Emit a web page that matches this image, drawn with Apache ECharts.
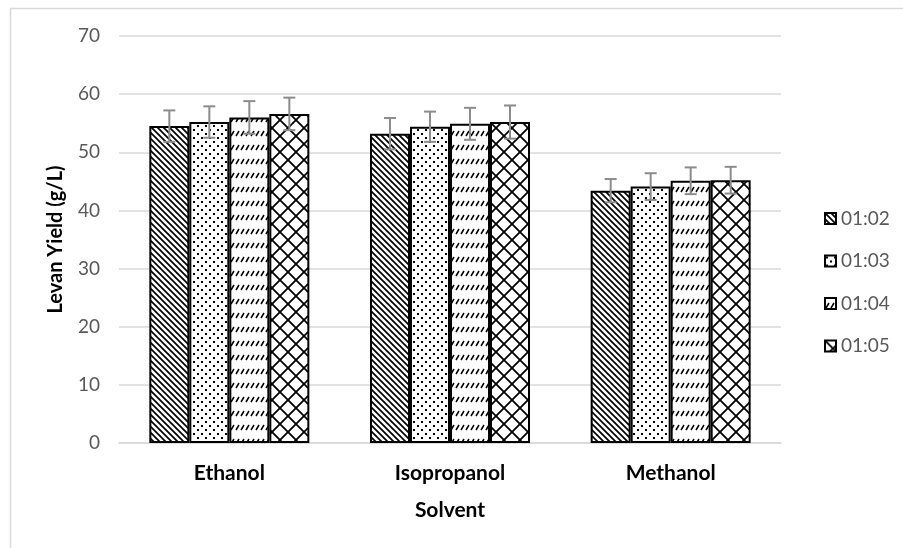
<!DOCTYPE html>
<html>
<head>
<meta charset="utf-8">
<script src="https://cdn.jsdelivr.net/npm/echarts@6/dist/echarts.min.js"></script>
<style>html,body{margin:0;padding:0;background:#fff}#c{width:903px;height:548px}</style>
</head>
<body>
<div id="c"></div>
<script>
// ---- data ----
var categories = ['Ethanol', 'Isopropanol', 'Methanol'];
var seriesNames = ['01:02', '01:03', '01:04', '01:05'];
var yield_0102 = [54.5, 53.2, 43.4];
var yield_0103 = [55.2, 54.4, 44.1];
var yield_0104 = [56.0, 54.9, 45.1];
var yield_0105 = [56.6, 55.2, 45.2];
var err_0102 = [2.7, 2.7, 2.0];
var err_0103 = [2.7, 2.6, 2.3];
var err_0104 = [2.8, 2.75, 2.3];
var err_0105 = [2.8, 2.85, 2.3];
var yTicks = [0, 10, 20, 30, 40, 50, 60, 70];
var yAxisTitle = 'Levan Yield (g/L)';
var xAxisTitle = 'Solvent';

var values = [yield_0102, yield_0103, yield_0104, yield_0105];
var errors = [err_0102, err_0103, err_0104, err_0105];

// ---- patterns ----
function mk(w, h, draw) {
  var c = document.createElement('canvas');
  c.width = w; c.height = h;
  var g = c.getContext('2d');
  g.fillStyle = '#fff'; g.fillRect(0, 0, w, h);
  g.strokeStyle = '#000'; g.fillStyle = '#000';
  draw(g);
  return { image: c, repeat: 'repeat' };
}
var pat1 = mk(6, 6, function (g) {
  g.lineWidth = 1.7;
  g.beginPath();
  g.moveTo(-1, -1); g.lineTo(7, 7);
  g.moveTo(-1, 5); g.lineTo(1, 7);
  g.moveTo(5, -1); g.lineTo(7, 1);
  g.stroke();
});
var pat2 = mk(8, 8, function (g) {
  g.fillRect(1, 1, 2, 2);
  g.fillRect(5, 5, 2, 2);
});
var pat3 = mk(5, 14, function (g) {
  g.lineWidth = 1.5;
  g.beginPath();
  g.moveTo(1, 10); g.lineTo(4, 5);
  g.stroke();
});
var pat4 = mk(16, 16, function (g) {
  g.lineWidth = 1.8;
  g.beginPath();
  g.moveTo(0, 0); g.lineTo(16, 16);
  g.moveTo(16, 0); g.lineTo(0, 16);
  g.stroke();
});
var pats = [pat1, pat2, pat3, pat4];

var FONT = 'Lato';
var barW = 40;

var series = [];
for (var i = 0; i < 4; i++) {
  series.push({
    name: seriesNames[i],
    type: 'bar',
    data: values[i],
    barWidth: barW,
    barGap: '0%',
    itemStyle: { color: pats[i], borderColor: '#000', borderWidth: 2 },
    emphasis: { disabled: true },
    z: 2
  });
}
// error bars
var errData = [];
for (var s = 0; s < 4; s++) {
  for (var k = 0; k < categories.length; k++) {
    errData.push([k, values[s][k] - errors[s][k], values[s][k] + errors[s][k], s]);
  }
}
series.push({
  type: 'custom',
  name: 'err',
  data: errData,
  z: 5,
  renderItem: function (params, api) {
    var cat = api.value(0), s = api.value(3);
    var off = (s - 1.5) * barW;
    var lo = api.coord([cat, api.value(1)]);
    var hi = api.coord([cat, api.value(2)]);
    var x = lo[0] + off;
    var st = { stroke: '#8c8c8c', lineWidth: 2 };
    return {
      type: 'group',
      children: [
        { type: 'line', shape: { x1: x, y1: lo[1], x2: x, y2: hi[1] }, style: st },
        { type: 'line', shape: { x1: x - 6, y1: hi[1], x2: x + 6, y2: hi[1] }, style: st },
        { type: 'line', shape: { x1: x - 6, y1: lo[1], x2: x + 6, y2: lo[1] }, style: st }
      ]
    };
  },
  encode: { x: 0, y: [1, 2] }
});

var chart = echarts.init(document.getElementById('c'), null, { renderer: 'canvas' });
chart.setOption({
  animation: false,
  backgroundColor: '#fff',
  textStyle: { fontFamily: FONT },
  graphic: [{
    type: 'rect', silent: true, z: -1,
    shape: { x: 10.5, y: 8.5, width: 1000, height: 1000 },
    style: { fill: 'none', stroke: '#d9d9d9', lineWidth: 1.5 }
  }, {
    type: 'text', silent: true,
    x: 55.5, y: 239.5, rotation: Math.PI / 2,
    style: {
      text: yAxisTitle, fill: '#000', fontSize: 20, fontWeight: 'bold', fontFamily: FONT,
      align: 'center', verticalAlign: 'middle'
    }
  }],
  grid: { left: 119, right: 122, top: 36, bottom: 105, containLabel: false },
  legend: {
    data: seriesNames,
    orient: 'vertical',
    left: 819, top: 204,
    itemWidth: 11, itemHeight: 11, itemGap: 23.5,
    icon: 'rect',
    textStyle: { color: '#595959', fontSize: 19, fontFamily: FONT },
    itemStyle: { borderColor: '#000', borderWidth: 2 }
  },
  xAxis: {
    type: 'category',
    data: categories,
    name: xAxisTitle,
    nameLocation: 'middle',
    nameGap: 57,
    nameMoveOverlap: false,
    nameTextStyle: { color: '#000', fontSize: 21, fontWeight: 'bold', fontFamily: FONT },
    axisLine: { lineStyle: { color: '#d9d9d9', width: 1.5 } },
    axisTick: { show: false },
    axisLabel: { color: '#000', fontSize: 21, fontWeight: 'bold', margin: 20, fontFamily: FONT }
  },
  yAxis: {
    type: 'value',
    min: yTicks[0], max: yTicks[yTicks.length - 1], interval: 10,
    axisLine: { show: false },
    axisTick: { show: false },
    axisLabel: { color: '#595959', fontSize: 19, margin: 19, fontFamily: FONT },
    splitLine: { lineStyle: { color: '#d9d9d9', width: 1.5 } }
  },
  series: series
});
</script>
</body>
</html>
